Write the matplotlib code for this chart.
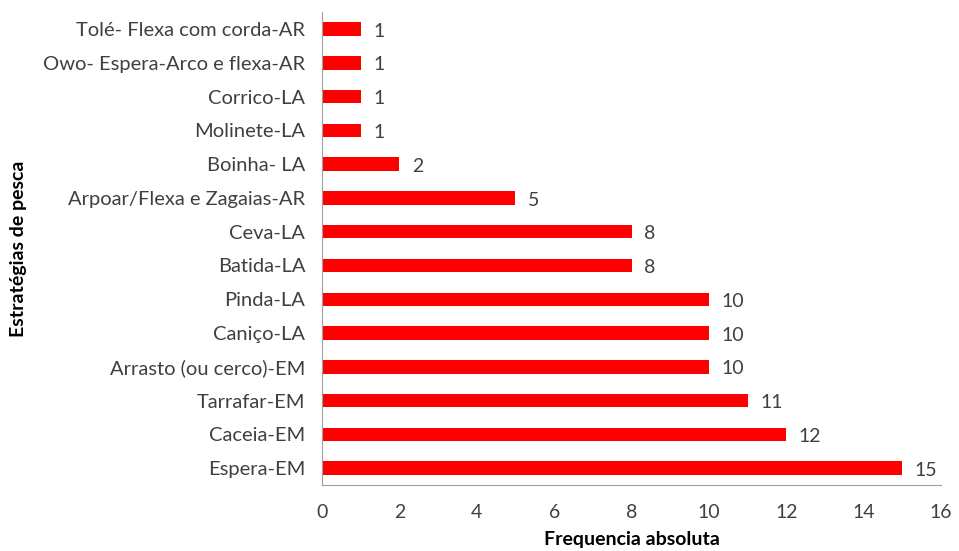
import matplotlib.pyplot as plt

plt.rcParams['font.family'] = ['Lato', 'DejaVu Sans']

# estratégias de pesca (de baixo para cima)
estrategias = ['Espera-EM', 'Caceia-EM', 'Tarrafar-EM', 'Arrasto (ou cerco)-EM',
               'Caniço-LA', 'Pinda-LA', 'Batida-LA', 'Ceva-LA',
               'Arpoar/Flexa e Zagaias-AR', 'Boinha- LA', 'Molinete-LA',
               'Corrico-LA', 'Owo- Espera-Arco e flexa-AR', 'Tolé- Flexa com corda-AR']
frequencia = [15, 12, 11, 10, 10, 10, 8, 8, 5, 2, 1, 1, 1, 1]
xticks = [0, 2, 4, 6, 8, 10, 12, 14, 16]

fig = plt.figure(figsize=(9.59, 5.51), dpi=100)
ax = fig.add_axes([0.3358, 0.1198, 0.6454, 0.858])

pos = range(len(estrategias))
ax.barh(pos, frequencia, height=0.4, color='#ff0000')
ax.set_ylim(-0.5, len(estrategias) - 0.5)
ax.set_xlim(0, 16)
ax.set_xticks(xticks)
ax.set_yticks(list(pos))
ax.set_yticklabels(estrategias)

# rótulos de valores
for i, v in enumerate(frequencia):
    ax.annotate(str(v), (v, i), xytext=(9, -1.5), textcoords='offset points',
                va='center', ha='left', fontsize=14, color='#404040')

for s in ['top', 'right']:
    ax.spines[s].set_visible(False)
for s in ['left', 'bottom']:
    ax.spines[s].set_color('#a0a0a0')
ax.tick_params(length=0, labelsize=14, colors='#404040')
ax.tick_params(axis='y', labelsize=14.5, pad=12)
ax.tick_params(axis='x', pad=14)

ax.set_xlabel('Frequencia absoluta', fontsize=14, fontweight='bold')
ax.xaxis.set_label_coords(0.5, -0.097)
ax.set_ylabel('Estratégias de pesca', fontsize=14, fontweight='bold')
ax.yaxis.set_label_coords(-0.477, 0.5)

fig.savefig('out.png', dpi=100)
